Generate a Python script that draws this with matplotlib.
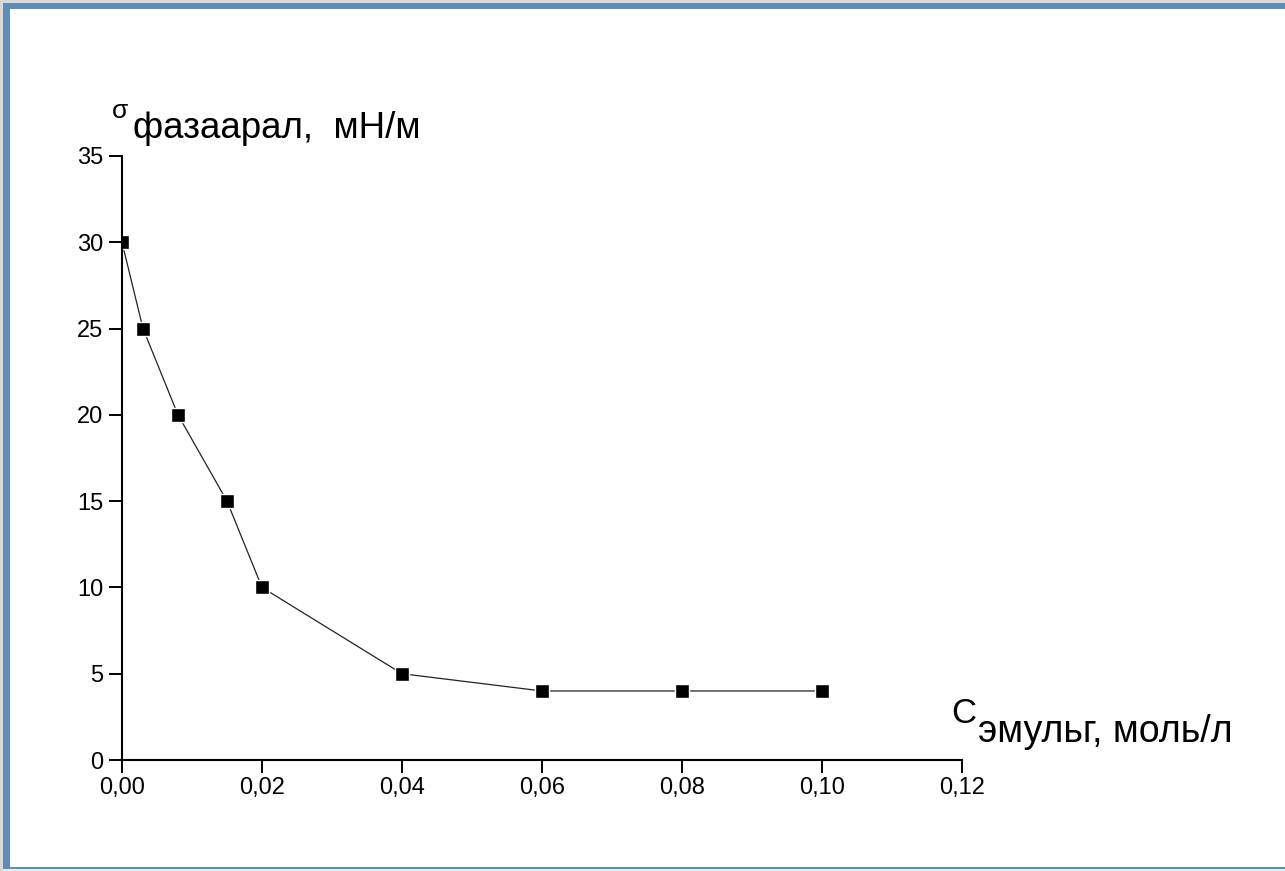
import matplotlib
matplotlib.use("Agg")
import matplotlib.pyplot as plt
from matplotlib.patches import Rectangle
from matplotlib.ticker import FixedLocator, FuncFormatter

plt.rcParams['font.family'] = ['Liberation Sans', 'DejaVu Sans']

# Data
conc = [0.0, 0.003, 0.008, 0.015, 0.02, 0.04, 0.06, 0.08, 0.10]
sigma = [30, 25, 20, 15, 10, 5, 4, 4, 4]
x_ticks = [0.0, 0.02, 0.04, 0.06, 0.08, 0.10, 0.12]
y_ticks = [0, 5, 10, 15, 20, 25, 30, 35]

W, H = 1285, 871
fig = plt.figure(figsize=(W / 100, H / 100), dpi=100, facecolor='#d9d9d9')

def fx(px):
    return px / W

def fy(py):
    return 1 - py / H

# window-like frame
fig.patches.append(Rectangle((fx(3), fy(869)), 1.0, fy(3) - fy(869),
                             transform=fig.transFigure, facecolor='#5b8fb9',
                             edgecolor='none', zorder=-10))
fig.patches.append(Rectangle((fx(10), fy(867)), 1.0, fy(9) - fy(867),
                             transform=fig.transFigure, facecolor='white',
                             edgecolor='none', zorder=-9))
fig.patches.append(Rectangle((fx(3), 0), 1.0, fy(869),
                             transform=fig.transFigure, facecolor='#e6edf2',
                             edgecolor='none', zorder=-10))

ax = fig.add_axes([fx(122), fy(760), fx(962) - fx(122), fy(156) - fy(760)])
ax.set_facecolor('none')

ax.plot(conc, sigma, color='#222222', linewidth=0.9, marker='s',
        markersize=10, markerfacecolor='black', markeredgecolor='white',
        markeredgewidth=1.0, zorder=3)

ax.set_xlim(0, 0.12)
ax.set_ylim(0, 35)
ax.xaxis.set_major_locator(FixedLocator(x_ticks))
ax.yaxis.set_major_locator(FixedLocator(y_ticks))
ax.xaxis.set_major_formatter(FuncFormatter(lambda v, p: f"{v:.2f}".replace('.', ',')))
ax.yaxis.set_major_formatter(FuncFormatter(lambda v, p: f"{v:.0f}"))

for s in ['top', 'right']:
    ax.spines[s].set_visible(False)
for s in ['left', 'bottom']:
    ax.spines[s].set_linewidth(1.5)
    ax.spines[s].set_color('black')
    ax.spines[s].set_zorder(5)

ax.tick_params(axis='both', direction='out', length=9.5, width=1.4,
               labelsize=17, color='black', labelcolor='black')
ax.tick_params(axis='x', pad=3)
ax.tick_params(axis='y', pad=4)

# Axis titles
fig.text(fx(112), fy(118), 'σ', fontsize=19, ha='left', va='baseline')
fig.text(fx(133), fy(138), 'фазаарал,  мН/м', fontsize=26.5, ha='left', va='baseline')
fig.text(fx(951), fy(723), 'C', fontsize=25, ha='left', va='baseline')
fig.text(fx(978), fy(742), 'эмульг, моль/л', fontsize=27, ha='left', va='baseline')

fig.savefig('out.png', dpi=100, facecolor=fig.get_facecolor())
